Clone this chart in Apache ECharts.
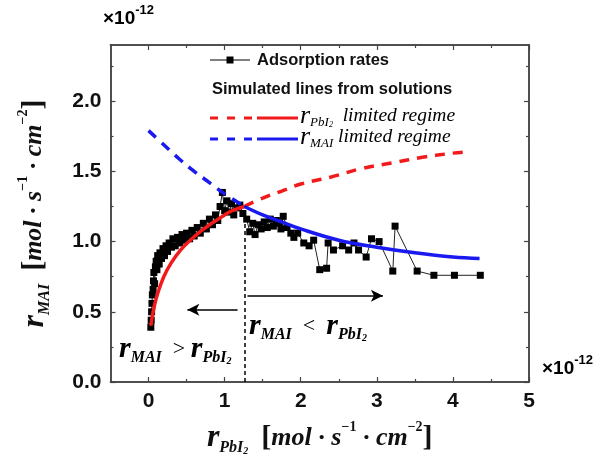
<!DOCTYPE html>
<html><head><meta charset="utf-8">
<script src="https://cdn.jsdelivr.net/npm/echarts@6/dist/echarts.min.js"></script>
<style>html,body{margin:0;padding:0;background:#fff}#c{width:608px;height:466px}</style>
</head><body><div id="c"></div>
<script>
// Adsorption rates (x: r_PbI2 ×1e-12, y: r_MAI ×1e-12)
const adsX = [0.03,0.035,0.04,0.045,0.05,0.06,0.065,0.07,0.08,0.09,0.10,0.11,0.12,0.14,0.15,0.17,0.19,0.21,0.23,0.25,0.27,0.30,0.32,0.35,0.38,0.41,0.44,0.47,0.50,0.54,0.57,0.60,0.64,0.68,0.72,0.76,0.80,0.84,0.88,0.91,0.94,0.97,1.00,1.03,1.06,1.09,1.12,1.16,1.20,1.24,1.29,1.33,1.37,1.40,1.44,1.48,1.52,1.56,1.60,1.64,1.68,1.72,1.74,1.77,1.82,1.87,1.91,1.96,2.04,2.11,2.17,2.25,2.34,2.36,2.43,2.55,2.63,2.70,2.76,2.86,2.93,3.03,3.21,3.24,3.53,3.75,4.02,4.36];
const adsY = [0.39,0.44,0.50,0.56,0.62,0.66,0.72,0.78,0.70,0.82,0.86,0.80,0.90,0.84,0.92,0.88,0.95,0.90,0.97,0.93,0.99,0.96,1.02,0.97,1.03,0.99,1.05,1.01,1.06,1.02,1.08,1.04,1.10,1.06,1.13,1.09,1.16,1.12,1.19,1.15,1.25,1.35,1.22,1.29,1.21,1.27,1.19,1.24,1.26,1.20,1.16,1.07,1.13,1.05,1.12,1.09,1.14,1.10,1.16,1.11,1.15,1.13,1.09,1.18,1.10,1.06,1.03,1.06,0.99,0.97,1.01,0.80,0.81,0.99,0.94,0.97,0.94,0.99,0.94,0.89,1.02,1.00,0.79,1.11,0.79,0.76,0.76,0.76];
// Simulated lines
const redSolidX = [0.03,0.05,0.08,0.12,0.2,0.3,0.42,0.55,0.7,0.86,1.0,1.1,1.26];
const redSolidY = [0.40,0.47,0.55,0.63,0.75,0.85,0.94,1.01,1.08,1.14,1.19,1.22,1.25];
const redDashX = [1.26,1.5,1.75,2.0,2.4,2.8,3.2,3.6,4.0,4.2];
const redDashY = [1.25,1.31,1.36,1.41,1.46,1.52,1.56,1.60,1.63,1.64];
const blueDashX = [0,0.2,0.4,0.6,0.8,1.0,1.26];
const blueDashY = [1.79,1.69,1.59,1.50,1.42,1.34,1.25];
const blueSolidX = [1.26,1.5,1.75,2.0,2.5,3.0,3.5,4.0,4.35];
const blueSolidY = [1.25,1.19,1.14,1.09,1.01,0.96,0.92,0.89,0.88];
// Annotations
const crossX = 1.26, crossY = 1.25;
const arrowRight = [[1.30,0.614],[3.08,0.614]];
const arrowLeft = [[1.17,0.514],[0.51,0.514]];
// Ticks
const xMajor = [0,1,2,3,4,5];
const xMinor = [0.5,1.5,2.5,3.5,4.5];
const yMajor = [0,0.5,1,1.5,2];
const yMinor = [0.25,0.75,1.25,1.75,2.25];
const X_MIN = -0.5, X_MAX = 5, Y_MIN = 0, Y_MAX = 2.4;

const zip = (xs, ys) => xs.map((x, i) => [x, ys[i]]);
const RED = '#f21a1a', BLUE = '#1a1af0', AX = '#444';
const SERIF = 'Liberation Serif', SANS = 'Liberation Sans';

const nameRich = {
  r: {fontFamily: SERIF, fontStyle: 'italic', fontWeight: 'bold', fontSize: 32, lineHeight: 36, verticalAlign: 'middle', color: '#111'},
  sub: {fontFamily: SERIF, fontStyle: 'italic', fontWeight: 'bold', fontSize: 16, lineHeight: 14, verticalAlign: 'bottom', color: '#111'},
  sub2: {fontFamily: SERIF, fontStyle: 'italic', fontWeight: 'bold', fontSize: 10, lineHeight: 9, verticalAlign: 'bottom', color: '#111'},
  t: {fontFamily: SERIF, fontStyle: 'italic', fontWeight: 'bold', fontSize: 26, lineHeight: 36, verticalAlign: 'middle', color: '#111'},
  b: {fontFamily: SERIF, fontWeight: 'bold', fontSize: 30, lineHeight: 36, verticalAlign: 'middle', color: '#111'},
  sup: {fontFamily: SERIF, fontWeight: 'bold', fontSize: 14, lineHeight: 22, verticalAlign: 'top', color: '#111'}
};

function axis(pos, ticks, len, labels, isX) {
  return {
    type: 'value', position: pos,
    min: isX ? X_MIN : Y_MIN, max: isX ? X_MAX : Y_MAX,
    splitLine: {show: false},
    axisLine: {show: true, onZero: false, lineStyle: {color: AX, width: 1.5}},
    axisTick: {show: true, inside: true, length: len, customValues: ticks, lineStyle: {color: AX, width: 1.2}},
    axisLabel: labels ? {
      show: true, customValues: ticks, margin: 9, fontSize: 21, fontWeight: 'bold', fontFamily: SANS, color: '#111',
      formatter: v => isX ? String(Math.round(v)) : Number(v).toFixed(1)
    } : {show: false}
  };
}

const xMain = axis('bottom', xMajor, 5, true, true);
xMain.name = '{r|r}{sub|PbI}{sub2|2}{t|  }{b|[}{t|mol · s}{sup|−1}{t| · cm}{sup|−2}{b|]}';
xMain.nameLocation = 'middle';
xMain.nameGap = 38;
xMain.nameTextStyle = {rich: nameRich};

const yMain = axis('left', yMajor, 5, true, false);
yMain.name = '{r|r}{sub|MAI}{t|  }{b|[}{t|mol · s}{sup|−1}{t| · cm}{sup|−2}{b|]}';
yMain.nameLocation = 'middle';
yMain.nameRotate = 90;
yMain.nameGap = 58;
yMain.nameTextStyle = {rich: nameRich};

const annRich = {
  r: {fontFamily: SERIF, fontStyle: 'italic', fontWeight: 'bold', fontSize: 30, lineHeight: 34, verticalAlign: 'middle', color: '#111'},
  sub: {fontFamily: SERIF, fontStyle: 'italic', fontWeight: 'bold', fontSize: 16, lineHeight: 13, verticalAlign: 'bottom', color: '#111'},
  sub2: {fontFamily: SERIF, fontStyle: 'italic', fontWeight: 'bold', fontSize: 10, lineHeight: 8, verticalAlign: 'bottom', color: '#111'},
  op: {fontFamily: SERIF, fontSize: 22, lineHeight: 34, verticalAlign: 'middle', color: '#111'}
};
const legRich = {
  r: {fontFamily: SERIF, fontStyle: 'italic', fontSize: 26, lineHeight: 26, verticalAlign: 'middle', color: '#111'},
  sub: {fontFamily: SERIF, fontStyle: 'italic', fontSize: 13, lineHeight: 10, verticalAlign: 'bottom', color: '#111'},
  sub2: {fontFamily: SERIF, fontStyle: 'italic', fontSize: 8, lineHeight: 6, verticalAlign: 'bottom', color: '#111'},
  t: {fontFamily: SERIF, fontStyle: 'italic', fontSize: 19.5, lineHeight: 26, verticalAlign: 'middle', color: '#111'}
};
const expRich = {
  a: {fontFamily: SANS, fontWeight: 'bold', fontSize: 19, lineHeight: 24, verticalAlign: 'bottom', color: '#111'},
  s: {fontFamily: SANS, fontWeight: 'bold', fontSize: 13, lineHeight: 24, verticalAlign: 'top', color: '#111'}
};

const chart = echarts.init(document.getElementById('c'), null, {renderer: 'canvas'});
chart.setOption({
  animation: false,
  backgroundColor: '#fff',
  grid: {left: 110.5, right: 79, top: 45, bottom: 84, outerBoundsMode: 'none'},
  xAxis: [xMain, axis('bottom', xMinor, 3, false, true), axis('top', xMajor, 5, false, true), axis('top', xMinor, 3, false, true)],
  yAxis: [yMain, axis('left', yMinor, 3, false, false), axis('right', yMajor, 5, false, false), axis('right', yMinor, 3, false, false)],
  series: [
    {
      name: 'Adsorption rates', type: 'line', data: zip(adsX, adsY),
      symbol: 'rect', symbolSize: 7, showSymbol: true, z: 2,
      itemStyle: {color: '#000'}, lineStyle: {color: '#222', width: 1},
      markLine: {
        silent: true, animation: false, label: {show: false},
        symbol: ['none', 'none'],
        data: [
          [{coord: [crossX, 0], lineStyle: {type: [4, 3], color: '#000', width: 1.5}}, {coord: [crossX, crossY]}],
          [{coord: arrowRight[0], symbol: 'none', lineStyle: {type: 'solid', color: '#000', width: 1.5}}, {coord: arrowRight[1], symbol: 'arrow', symbolSize: [9, 12]}],
          [{coord: arrowLeft[0], symbol: 'none', lineStyle: {type: 'solid', color: '#000', width: 1.5}}, {coord: arrowLeft[1], symbol: 'arrow', symbolSize: [9, 12]}]
        ]
      }
    },
    {type: 'line', data: zip(redDashX, redDashY), showSymbol: false, smooth: 0.4, z: 3, lineStyle: {color: RED, width: 3.5, type: [10, 8]}},
    {type: 'line', data: zip(redSolidX, redSolidY), showSymbol: false, smooth: 0.4, z: 3, lineStyle: {color: RED, width: 3.5}},
    {type: 'line', data: zip(blueDashX, blueDashY), showSymbol: false, smooth: 0.4, z: 3, lineStyle: {color: BLUE, width: 3.5, type: [10, 8]}},
    {type: 'line', data: zip(blueSolidX, blueSolidY), showSymbol: false, smooth: 0.4, z: 3, lineStyle: {color: BLUE, width: 3.5}}
  ],
  graphic: [
    // exponent labels
    {type: 'text', left: 103, top: 4, style: {text: '{a|×10}{s|-12}', rich: expRich}},
    {type: 'text', left: 542, top: 354, style: {text: '{a|×10}{s|-12}', rich: expRich}},
    // legend
    {type: 'line', shape: {x1: 210, y1: 60, x2: 250, y2: 60}, style: {stroke: '#000', lineWidth: 1}},
    {type: 'rect', shape: {x: 226.5, y: 56.5, width: 7, height: 7}, style: {fill: '#000'}},
    {type: 'text', x: 257, y: 60, style: {text: 'Adsorption rates', font: 'bold 16.5px "Liberation Sans"', fill: '#111', verticalAlign: 'middle'}},
    {type: 'text', x: 212, y: 89, style: {text: 'Simulated lines from solutions', font: 'bold 16.5px "Liberation Sans"', fill: '#111', verticalAlign: 'middle'}},
    {type: 'line', shape: {x1: 210, y1: 118, x2: 254, y2: 118}, style: {stroke: RED, lineWidth: 3.2, lineDash: [8, 9]}},
    {type: 'line', shape: {x1: 257, y1: 118, x2: 298, y2: 118}, style: {stroke: RED, lineWidth: 3.2}},
    {type: 'text', x: 300, y: 116, style: {text: '{r|r}{sub|PbI}{sub2|2}{t|  limited regime}', rich: legRich, verticalAlign: 'middle'}},
    {type: 'line', shape: {x1: 210, y1: 139, x2: 254, y2: 139}, style: {stroke: BLUE, lineWidth: 3.2, lineDash: [8, 9]}},
    {type: 'line', shape: {x1: 257, y1: 139, x2: 298, y2: 139}, style: {stroke: BLUE, lineWidth: 3.2}},
    {type: 'text', x: 300, y: 137, style: {text: '{r|r}{sub|MAI}{t| limited regime}', rich: legRich, verticalAlign: 'middle'}},
    // regime annotations
    {type: 'text', x: 249, y: 326, style: {text: '{r|r}{sub|MAI}{op|  <  }{r|r}{sub|PbI}{sub2|2}', rich: annRich, verticalAlign: 'middle'}},
    {type: 'text', x: 119, y: 349, style: {text: '{r|r}{sub|MAI}{op|  > }{r|r}{sub|PbI}{sub2|2}', rich: annRich, verticalAlign: 'middle'}}
  ]
});
</script>
</body></html>
